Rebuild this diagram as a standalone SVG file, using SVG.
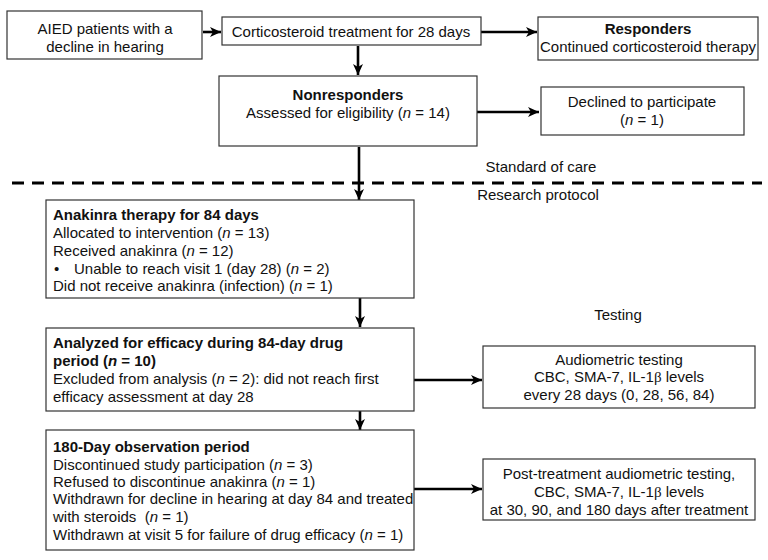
<svg xmlns="http://www.w3.org/2000/svg" width="768" height="560" viewBox="0 0 768 560">
<defs>
<marker id="ah" markerUnits="userSpaceOnUse" markerWidth="12" markerHeight="12" viewBox="0 0 12 12" refX="11" refY="6" orient="auto">
<path d="M0,1 L11,6 L0,11 L3,6 Z" fill="#000"/>
</marker>
<style>
text{font-family:"Liberation Sans",Arial,Helvetica,sans-serif;font-size:15px;fill:#111}
.c{text-anchor:middle}
.b{font-weight:bold}
.i{font-style:italic}
.g{font-family:"Liberation Serif","DejaVu Serif",serif}
rect{fill:#fff;stroke:#333;stroke-width:1.2}
.a{stroke:#000;stroke-width:2.6;fill:none;marker-end:url(#ah)}
.d{stroke:#000;stroke-width:3;stroke-dasharray:12 8;fill:none}
</style>
</defs>
<g id="connectors">
<line class="a" x1="203" y1="32" x2="221" y2="32"/>
<line class="a" x1="481" y1="32" x2="537" y2="32"/>
<line class="a" x1="358" y1="46" x2="358" y2="75"/>
<line class="a" x1="477" y1="112" x2="539" y2="112"/>
<line class="a" x1="359" y1="147" x2="359" y2="200"/>
<line class="a" x1="360" y1="298" x2="360" y2="327"/>
<line class="a" x1="414" y1="380" x2="482" y2="380"/>
<line class="a" x1="360" y1="411" x2="360" y2="430"/>
<line class="a" x1="414" y1="489" x2="482" y2="489"/>
</g>
<g id="divider">
<line class="d" x1="12" y1="183" x2="762" y2="183"/>
<text class="c" x="541" y="172">Standard of care</text>
<text class="c" x="538" y="200">Research protocol</text>
<text class="c" x="618" y="320">Testing</text>
</g>
<g id="aied">
<rect x="7" y="11" width="195" height="48"/>
<text class="c" x="105" y="34">AIED patients with a</text>
<text class="c" x="105" y="52">decline in hearing</text>
</g>
<g id="cortico">
<rect x="222" y="17" width="259" height="28"/>
<text class="c" x="351" y="37">Corticosteroid treatment for 28 days</text>
</g>
<g id="responders">
<rect x="538" y="17" width="220" height="43"/>
<text class="c b" x="648" y="34">Responders</text>
<text class="c" x="648" y="52">Continued corticosteroid therapy</text>
</g>
<g id="nonresponders">
<rect x="219" y="76" width="258" height="70"/>
<text class="c b" x="348" y="100">Nonresponders</text>
<text class="c" x="348" y="118">Assessed for eligibility (<tspan class="i">n</tspan> = 14)</text>
</g>
<g id="declined">
<rect x="541" y="87" width="203" height="48"/>
<text class="c" x="642" y="107">Declined to participate</text>
<text class="c" x="642" y="125">(<tspan class="i">n</tspan> = 1)</text>
</g>
<g id="anakinra">
<rect x="46" y="200" width="368" height="98"/>
<text class="b" x="53" y="220">Anakinra therapy for 84 days</text>
<text x="53" y="238">Allocated to intervention (<tspan class="i">n</tspan> = 13)</text>
<text x="53" y="256">Received anakinra (<tspan class="i">n</tspan> = 12)</text>
<text x="54" y="274">•</text>
<text x="74" y="274">Unable to reach visit 1 (day 28) (<tspan class="i">n</tspan> = 2)</text>
<text x="53" y="291">Did not receive anakinra (infection) (<tspan class="i">n</tspan> = 1)</text>
</g>
<g id="analyzed">
<rect x="46" y="328" width="368" height="83"/>
<text class="b" x="53" y="348">Analyzed for efficacy during 84-day drug</text>
<text class="b" x="53" y="366">period (<tspan class="i">n</tspan> = 10)</text>
<text x="53" y="384">Excluded from analysis (<tspan class="i">n</tspan> = 2): did not reach first</text>
<text x="53" y="402">efficacy assessment at day 28</text>
</g>
<g id="testing1">
<rect x="483" y="346" width="272" height="62"/>
<text class="c" x="619" y="365">Audiometric testing</text>
<text class="c" x="619" y="382">CBC, SMA-7, IL-1<tspan class="g">β</tspan> levels</text>
<text class="c" x="619" y="400">every 28 days (0, 28, 56, 84)</text>
</g>
<g id="observation">
<rect x="46" y="430" width="368" height="120"/>
<text class="b" x="53" y="452">180-Day observation period</text>
<text x="53" y="470">Discontinued study participation (<tspan class="i">n</tspan> = 3)</text>
<text x="53" y="487">Refused to discontinue anakinra (<tspan class="i">n</tspan> = 1)</text>
<text x="53" y="504">Withdrawn for decline in hearing at day 84 and treated</text>
<text x="53" y="522">with steroids &#160;(<tspan class="i">n</tspan> = 1)</text>
<text x="53" y="540">Withdrawn at visit 5 for failure of drug efficacy (<tspan class="i">n</tspan> = 1)</text>
</g>
<g id="testing2">
<rect x="483" y="459" width="272" height="61"/>
<text class="c" x="619" y="479">Post-treatment audiometric testing,</text>
<text class="c" x="619" y="497">CBC, SMA-7, IL-1<tspan class="g">β</tspan> levels</text>
<text class="c" x="619" y="515">at 30, 90, and 180 days after treatment</text>
</g>
</svg>
